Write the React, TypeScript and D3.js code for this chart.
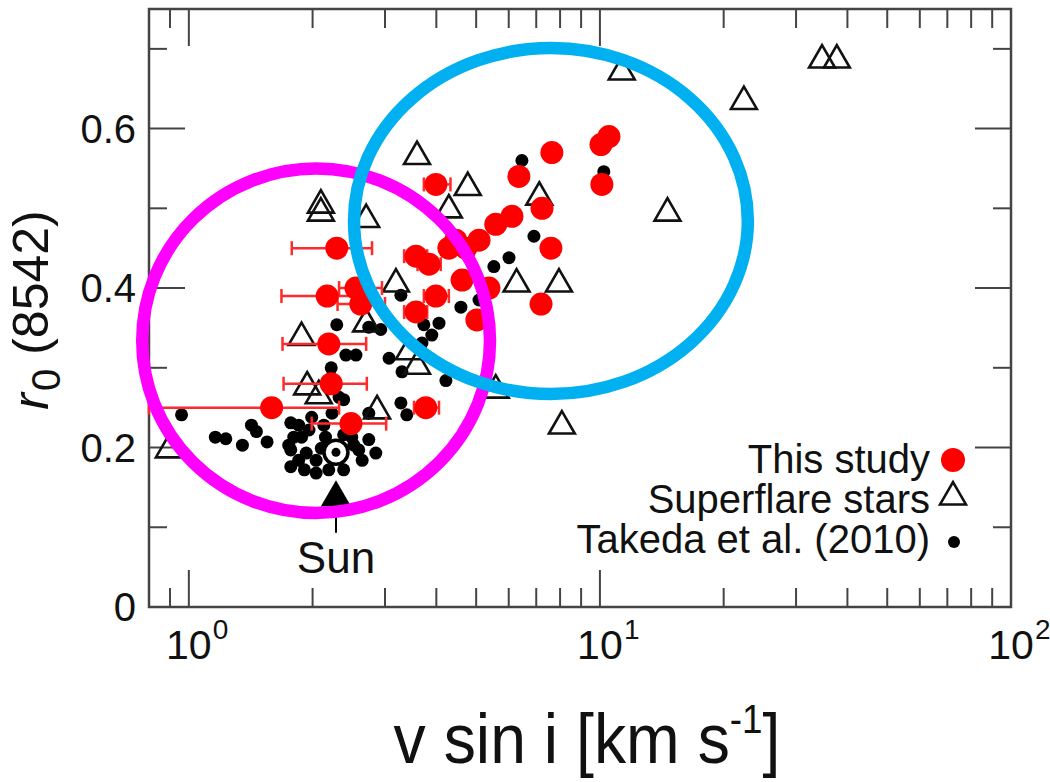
import React, { useEffect, useRef } from "react";
import * as d3 from "d3";

const width = 1050;
const height = 782;
const margin = { top: 9, left: 149, bottom: 175, right: 39 };
const iwidth = width - margin.left - margin.right;
const iheight = height - margin.top - margin.bottom;

// x axis (log) and y axis ticks
const xMajor = [1, 10, 100];
const xMajorLabels = ["0", "1", "2"];
const xMinor = [0.9, 2, 3, 4, 5, 6, 7, 8, 9, 20, 30, 40, 50, 60, 70, 80, 90];
const yMajor = [0, 0.2, 0.4, 0.6];
const yMajorLabels = ["0", "0.2", "0.4", "0.6"];
const yMinor = [0.1, 0.3, 0.5, 0.7];

// This study: [v sin i, r0, err low, err high] (null = no error bar)
const thisStudy = [
  [2.29, 0.45, 1.78, 2.79],
  [2.17, 0.39, 1.68, 2.71],
  [2.55, 0.4, 2.32, 2.95],
  [2.62, 0.38, 2.3, 3.0],
  [2.19, 0.33, 1.69, 2.7],
  [2.22, 0.28, 1.7, 2.71],
  [1.59, 0.25, 0.8, 2.32],
  [2.48, 0.23, 1.99, 3.02],
  [3.77, 0.25, 3.53, 4.06],
  [3.99, 0.53, 3.73, 4.33],
  [3.57, 0.44, 3.34, 3.8],
  [3.84, 0.43, 3.6, 4.1],
  [3.99, 0.39, 3.73, 4.29],
  [3.57, 0.37, 3.34, 3.8],
  [4.29, 0.45, null, null],
  [4.46, 0.46, null, null],
  [4.72, 0.45, null, null],
  [5.08, 0.46, null, null],
  [5.58, 0.48, null, null],
  [6.11, 0.49, null, null],
  [4.62, 0.41, null, null],
  [5.37, 0.4, null, null],
  [5.02, 0.36, null, null],
  [6.35, 0.54, null, null],
  [7.64, 0.57, null, null],
  [7.23, 0.5, null, null],
  [7.6, 0.45, null, null],
  [7.19, 0.38, null, null],
  [10.52, 0.59, null, null],
  [10.06, 0.58, null, null],
  [10.11, 0.53, null, null],
];

// Superflare stars: [v sin i, r0]
const superflare = [
  [0.894, 0.197], [2.095, 0.504], [2.095, 0.494], [2.7, 0.486], [3.59, 0.565],
  [4.77, 0.526], [4.29, 0.498], [7.12, 0.514], [6.27, 0.405], [7.95, 0.405],
  [11.3, 0.671], [22.4, 0.634], [14.6, 0.494], [34.7, 0.686], [37.7, 0.686],
  [8.08, 0.227], [5.58, 0.272], [3.19, 0.405], [2.7, 0.355], [1.88, 0.338],
  [1.94, 0.276], [2.07, 0.265], [2.87, 0.246], [3.43, 0.32], [3.59, 0.302],
];

// Takeda et al. (2010): [v sin i, r0]
const takeda = [
  [0.96, 0.241], [1.16, 0.213], [1.23, 0.211], [1.35, 0.203], [1.42, 0.228],
  [1.46, 0.22], [1.55, 0.207], [1.77, 0.231], [1.8, 0.213], [1.77, 0.197],
  [1.77, 0.176], [1.88, 0.213], [1.99, 0.238], [2.04, 0.184], [2.04, 0.168],
  [1.93, 0.193], [2.15, 0.213], [2.49, 0.213], [2.59, 0.197], [2.64, 0.184],
  [2.85, 0.193], [2.1, 0.199], [2.32, 0.263], [2.23, 0.243], [2.38, 0.26],
  [2.74, 0.243], [1.85, 0.184], [1.91, 0.172], [2.19, 0.172], [2.38, 0.172],
  [1.75, 0.203], [1.96, 0.222], [2.13, 0.228], [2.52, 0.203], [2.38, 0.216],
  [2.74, 0.21], [1.85, 0.228], [2.29, 0.354], [2.41, 0.316], [2.55, 0.316],
  [2.22, 0.3], [2.74, 0.351], [2.93, 0.348], [3.07, 0.312], [3.3, 0.295],
  [3.28, 0.256], [3.39, 0.241], [4.22, 0.284], [3.73, 0.354], [3.9, 0.341],
  [4.06, 0.356], [3.69, 0.331], [4.59, 0.376], [5.08, 0.385], [3.28, 0.391],
  [6.01, 0.438], [5.52, 0.427], [6.91, 0.465], [6.46, 0.56], [10.22, 0.546],
];

// Sun
const sun = [2.28, 0.194];
const sunArrowR = 0.137;

// highlight ellipses: [center v, center r, half-width in decades, half-height in r]
const ellipses = [
  [2.04, 0.334, 0.423, 0.216, "#ff00ff"],
  [7.6, 0.484, 0.479, 0.217, "#00b0f0"],
];

const legendLabels = ["This study", "Superflare stars", "Takeda et al. (2010)"];

const font = "'Liberation Sans', Arial, Helvetica, sans-serif";

export default function App() {
  const ref = useRef<SVGSVGElement>(null);

  useEffect(() => {
    const svg = d3.select(ref.current);
    svg.selectAll("*").remove();
    svg.attr("width", width).attr("height", height);
    svg.append("rect").attr("width", width).attr("height", height).attr("fill", "white");

    const g = svg.append("g").attr("transform", `translate(${margin.left},${margin.top})`);

    const x = d3.scaleLog().domain([0.8, 100]).range([0, iwidth]);
    const y = d3.scaleLinear().domain([0, 0.75]).range([iheight, 0]);

    const axisColor = "#444";

    // ticks on all four sides
    const tick = (x1, y1, x2, y2) =>
      g.append("line").attr("x1", x1).attr("y1", y1).attr("x2", x2).attr("y2", y2)
        .attr("stroke", axisColor).attr("stroke-width", 2);
    xMajor.forEach((t) => { tick(x(t), iheight, x(t), iheight - 37); tick(x(t), 0, x(t), 37); });
    xMinor.forEach((t) => { tick(x(t), iheight, x(t), iheight - 19); tick(x(t), 0, x(t), 19); });
    yMajor.forEach((t) => { tick(0, y(t), 36, y(t)); tick(iwidth, y(t), iwidth - 36, y(t)); });
    yMinor.forEach((t) => { tick(0, y(t), 18, y(t)); tick(iwidth, y(t), iwidth - 18, y(t)); });

    g.append("rect").attr("width", iwidth).attr("height", iheight)
      .attr("fill", "none").attr("stroke", axisColor).attr("stroke-width", 2.5);

    // tick labels
    yMajor.forEach((t, i) => {
      g.append("text").attr("x", -13).attr("y", y(t)).attr("dy", "0.36em")
        .attr("text-anchor", "end").attr("font-family", font).attr("font-size", 40)
        .attr("fill", "#111").text(yMajorLabels[i]);
    });
    xMajor.forEach((t, i) => {
      g.append("text").attr("x", x(t)).attr("y", iheight + 52)
        .attr("text-anchor", "middle").attr("font-family", font).attr("font-size", 41)
        .attr("fill", "#111").text("10");
      g.append("text").attr("x", x(t) + 24).attr("y", iheight + 32)
        .attr("font-family", font).attr("font-size", 28)
        .attr("fill", "#111").text(xMajorLabels[i]);
    });

    // Takeda dots
    g.append("g").selectAll("circle").data(takeda).enter().append("circle")
      .attr("cx", (d) => x(d[0])).attr("cy", (d) => y(d[1])).attr("r", 6.5).attr("fill", "#000");

    // Sun symbol
    g.append("circle").attr("cx", x(sun[0])).attr("cy", y(sun[1])).attr("r", 12)
      .attr("fill", "white").attr("stroke", "#000").attr("stroke-width", 3.5);
    g.append("circle").attr("cx", x(sun[0])).attr("cy", y(sun[1])).attr("r", 4.5).attr("fill", "#000");

    // superflare triangles
    const tri = d3.symbol().type(d3.symbolTriangle).size(290);
    g.append("g").selectAll("path").data(superflare).enter().append("path")
      .attr("d", tri).attr("transform", (d) => `translate(${x(d[0])},${y(d[1])})`)
      .attr("fill", "none").attr("stroke", "#111").attr("stroke-width", 2.6);

    // error bars
    const eb = g.append("g").attr("stroke", "#ff2a2a").attr("stroke-width", 2.5);
    thisStudy.filter((d) => d[2] != null).forEach((d) => {
      const yy = y(d[1]);
      eb.append("line").attr("x1", x(d[2])).attr("x2", x(d[3])).attr("y1", yy).attr("y2", yy);
      eb.append("line").attr("x1", x(d[2])).attr("x2", x(d[2])).attr("y1", yy - 7).attr("y2", yy + 7);
      eb.append("line").attr("x1", x(d[3])).attr("x2", x(d[3])).attr("y1", yy - 7).attr("y2", yy + 7);
    });

    // this study
    g.append("g").selectAll("circle").data(thisStudy).enter().append("circle")
      .attr("cx", (d) => x(d[0])).attr("cy", (d) => y(d[1])).attr("r", 11.5).attr("fill", "#ff0000");

    // Sun arrow + label
    const sx = x(sun[0]);
    g.append("path").attr("d", d3.symbol().type(d3.symbolTriangle).size(400)())
      .attr("transform", `translate(${sx},${y(sunArrowR)})`).attr("fill", "#000");
    tick(sx, y(sunArrowR) + 15, sx, y(sunArrowR) + 35).attr("stroke", "#000");
    g.append("text").attr("x", sx).attr("y", y(sunArrowR) + 75).attr("text-anchor", "middle")
      .attr("font-family", font).attr("font-size", 44).attr("fill", "#111").text("Sun");

    // legend
    const lx = 930 - margin.left;
    const ly = [473, 513, 553].map((v) => v - margin.top);
    legendLabels.forEach((l, i) => {
      g.append("text").attr("x", lx).attr("y", ly[i]).attr("text-anchor", "end")
        .attr("font-family", font).attr("font-size", 40).attr("fill", "#111").text(l);
    });
    g.append("circle").attr("cx", lx + 23).attr("cy", ly[0] - 13).attr("r", 12).attr("fill", "#ff0000");
    g.append("path").attr("d", tri).attr("transform", `translate(${lx + 23},${ly[1] - 16})`)
      .attr("fill", "none").attr("stroke", "#111").attr("stroke-width", 2.6);
    g.append("circle").attr("cx", lx + 24).attr("cy", ly[2] - 11).attr("r", 6).attr("fill", "#000");

    // highlight ellipses
    ellipses.forEach((e) => {
      const cx = x(e[0]);
      const cy = y(e[1]);
      g.append("ellipse").attr("cx", cx).attr("cy", cy)
        .attr("rx", x(e[0] * Math.pow(10, e[2])) - cx)
        .attr("ry", cy - y(e[1] + e[3]))
        .attr("fill", "none").attr("stroke", e[4]).attr("stroke-width", 12.5);
    });

    // axis titles
    const yt = svg.append("text").attr("transform", "translate(48,310) rotate(-90)")
      .attr("text-anchor", "middle").attr("font-family", font).attr("font-size", 50).attr("fill", "#111");
    yt.append("tspan").attr("font-style", "italic").text("r");
    yt.append("tspan").attr("font-size", 40).attr("dy", 12).attr("dx", 2).text("0");
    yt.append("tspan").attr("dy", -12).attr("dx", 14).text("(8542)");

    const xt = svg.append("g").attr("transform", "translate(587,763) scale(0.92,1)")
      .append("text").attr("text-anchor", "middle").attr("font-family", font)
      .attr("font-size", 70).attr("fill", "#111");
    xt.append("tspan").text("v sin i [km s");
    xt.append("tspan").attr("font-size", 40).attr("dy", -30).text("-1");
    xt.append("tspan").attr("dy", 30).text("]");
  }, []);

  return (
    <svg ref={ref} style={{ position: "absolute", left: 0, top: 0, display: "block" }} />
  );
}
